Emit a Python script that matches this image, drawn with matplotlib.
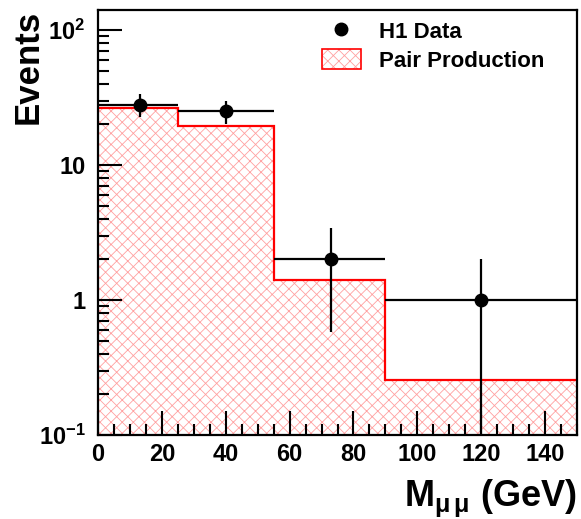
import matplotlib
matplotlib.use("Agg")
import matplotlib.pyplot as plt
from matplotlib.lines import Line2D
from matplotlib.patches import Patch
from matplotlib.legend_handler import HandlerTuple
from matplotlib.ticker import FixedLocator, LogLocator, MultipleLocator, NullFormatter, FuncFormatter
import numpy as np

# ---- data ----
bin_edges = [0, 25, 55, 90, 150]
pair_production = [26.4, 19.5, 1.4, 0.255]
data_x = [13, 40, 73, 120]
data_y = [28, 25, 2, 1]
data_yerr_lo = [5.2, 5.0, 1.42, 0.99]
data_yerr_hi = [5.3, 5.0, 1.4, 1.0]
xtick_vals = [0, 20, 40, 60, 80, 100, 120, 140]

plt.rcParams['font.family'] = ['Liberation Sans', 'DejaVu Sans']
plt.rcParams['font.weight'] = 'bold'
plt.rcParams['mathtext.fontset'] = 'custom'
plt.rcParams['mathtext.rm'] = 'Liberation Sans:bold'
plt.rcParams['mathtext.bf'] = 'Liberation Sans:bold'
plt.rcParams['mathtext.it'] = 'Liberation Sans'
plt.rcParams['hatch.linewidth'] = 0.6

fig = plt.figure(figsize=(5.81, 5.19), dpi=100)
ax = fig.add_axes([98/581, 1-435/519, (577-98)/581, (435-10)/519])
ax.set_yscale('log')

edges = np.array(bin_edges, dtype=float)
vals = np.array(pair_production, dtype=float)
hatch_col = '#ffa0a0'
ax.stairs(vals, edges, baseline=1e-3, fill=True, facecolor='white',
          edgecolor=hatch_col, hatch='xxx', linewidth=0, zorder=1)
ax.stairs(vals, edges, baseline=None, color='red', linewidth=1.6, zorder=2)

dx = np.array(data_x, dtype=float)
xlo = dx - edges[:-1]
xhi = edges[1:] - dx
ax.errorbar(dx, data_y, xerr=[xlo, xhi], yerr=[data_yerr_lo, data_yerr_hi],
            fmt='o', color='black', ms=9, elinewidth=1.6, capsize=0, zorder=3)

ax.set_xlim(0, 150)
ax.set_ylim(0.1, 10**(2 + 20/135))

ax.xaxis.set_major_locator(FixedLocator(xtick_vals))
ax.xaxis.set_minor_locator(MultipleLocator(5))
ax.yaxis.set_major_locator(LogLocator(base=10, numticks=10))
ax.yaxis.set_minor_locator(LogLocator(base=10, subs=np.arange(2, 10), numticks=20))
ax.yaxis.set_minor_formatter(NullFormatter())

def yfmt(v, pos):
    e = int(round(np.log10(v)))
    if e == 0:
        return '1'
    if e == 1:
        return '10'
    return r'$\mathbf{10^{%d}}$' % e
ax.yaxis.set_major_formatter(FuncFormatter(yfmt))

ax.tick_params(which='both', direction='in', top=False, right=False, width=1.5)
ax.tick_params(which='major', length=17, labelsize=17)
ax.tick_params(axis='y', which='major', pad=9)
ax.tick_params(axis='x', which='major', pad=6)
ax.tick_params(which='minor', length=8)
for lab in ax.get_xticklabels() + ax.get_yticklabels():
    lab.set_fontweight('bold')
for s in ax.spines.values():
    s.set_linewidth(1.6)

ax.set_xlabel(r'M$_{\mu\,\mu}$ (GeV)', fontsize=26, fontweight='bold', loc='right', labelpad=8)
ax.set_ylabel('Events', fontsize=25, fontweight='bold', loc='top')
ax.yaxis.set_label_coords((45-98)/479, 1.0)

h_data = Line2D([], [], marker='o', color='black', ls='none', ms=9)
h_fill = Patch(facecolor='white', edgecolor=hatch_col, hatch='xxx', linewidth=0)
h_edge = Patch(facecolor='none', edgecolor='red', linewidth=1.2)
leg = ax.legend([h_data, (h_fill, h_edge)], ['H1 Data', 'Pair Production'],
                handler_map={tuple: HandlerTuple(ndivide=1)},
                loc='upper left', bbox_to_anchor=(322/581, 1-20/519),
                bbox_transform=fig.transFigure, frameon=False,
                prop={'size': 16, 'weight': 'bold'}, handlelength=1.75,
                handleheight=1.0, handletextpad=0.8, labelspacing=0.3,
                borderpad=0, borderaxespad=0)

fig.savefig('out.png', dpi=100)
